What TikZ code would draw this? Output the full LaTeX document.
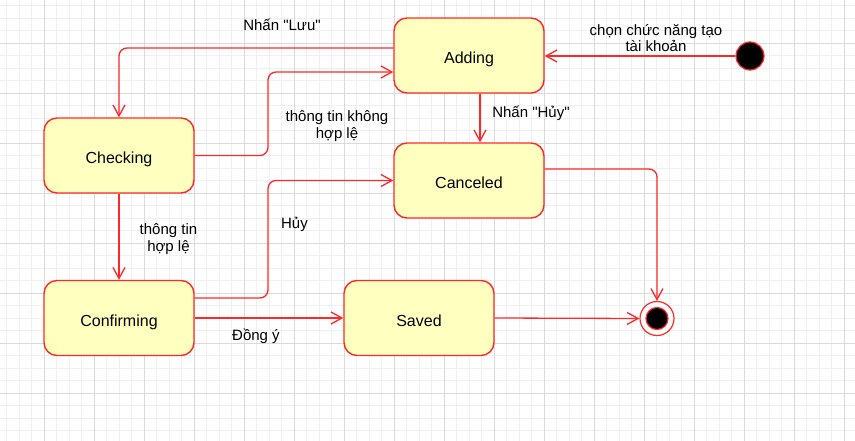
\documentclass[tikz,border=0pt]{standalone}
\usepackage{fontspec}
\setmainfont{Liberation Sans}[Ligatures=TeXOff]
\usetikzlibrary{arrows.meta,calc}
\definecolor{lred}{RGB}{255,40,40}
\definecolor{lyel}{RGB}{255,255,192}
\definecolor{gminor}{RGB}{240,240,240}
\definecolor{gmajor}{RGB}{218,218,218}
\tikzset{
  state/.style={draw=lred,fill=lyel,line width=1.4pt,rounded corners=13pt,
    minimum width=150pt,minimum height=75pt,inner sep=0pt,
    font=\fontsize{16}{18}\selectfont},
  arr/.style={draw=lred,line width=1.3pt,rounded corners=8pt,
    -{Straight Barb[length=11pt,width=12pt,line width=1.3pt]}},
  lbl/.style={font=\fontsize{15}{16.5}\selectfont,align=center,inner sep=0pt,text=black},
  gmin/.style={draw=gminor,line width=0.8pt},
  gmaj/.style={draw=gmajor,line width=0.9pt}
}
\newcommand{\stxt}[1]{\raisebox{-8pt}[0pt][0pt]{#1}}
\begin{document}
\begin{tikzpicture}[x=1pt,y=-1pt]
\useasboundingbox (0,0) rectangle (855,441);
\fill[white] (0,0) rectangle (855,441);
\foreach \k in {0,...,68} {\draw[gmin] ({6.5+12.5*\k},0) -- ({6.5+12.5*\k},441);}
\foreach \k in {0,...,35} {\draw[gmin] (0,{5.5+12.5*\k}) -- (855,{5.5+12.5*\k});}
\foreach \k in {-1,...,16} {\draw[gmaj] ({44+50*\k},0) -- ({44+50*\k},441);}
\foreach \k in {-1,...,8} {\draw[gmaj] (0,{43+50*\k}) -- (855,{43+50*\k});}
% states
\node[state] (adding) at (469,55.5) {\stxt{Adding}};
\node[state] (checking) at (119,155.5) {\stxt{Checking}};
\node[state] (canceled) at (469,180.5) {\stxt{Canceled}};
\node[state] (confirming) at (119,318) {\stxt{Confirming}};
\node[state] (saved) at (419,318) {\stxt{Saved}};
\node[circle,draw=lred,fill=black,line width=1.2pt,minimum size=28pt,inner sep=0pt] (init) at (750,56) {};
\node[circle,draw=lred,fill=white,line width=1.2pt,minimum size=34pt,inner sep=0pt] (final) at (657,318.5) {};
\fill[black,draw=lred,line width=1.2pt] (final.center) circle (11);
% junctions
\coordinate (j1) at (268,72);
\coordinate (j2) at (268,180.5);
% edges
\draw[arr] (init.west) -- (init.west -| adding.east);
\draw[arr] ([yshift=7.5pt]adding.west) -| (checking.north);
\draw[arr] (checking.east) -| (j1) -- (j1 -| adding.west);
\draw[arr] ([xshift=11pt]adding.south) -- ([xshift=11pt]canceled.north);
\draw[arr] (checking.south) -- (confirming.north);
\draw[arr] ([yshift=20pt]confirming.east) -| (j2) -- (canceled.west);
\draw[arr] (confirming.east) -- (saved.west);
\draw[arr] ([yshift=11.5pt]canceled.east) -| (final.north);
\draw[arr] (saved.east) -- (final.west);
% labels
\node[lbl] (l1) at (282,25) {Nhấn "Lưu"};
\node[lbl] (l2) at (656,38) {chọn chức năng tạo\\tài khoản};
\node[lbl] (l3) at (337,126) {thông tin không\\hợp lệ};
\node[lbl] (l4) at (531,113) {Nhấn "Hủy"};
\node[lbl] (l5) at (168.5,239) {thông tin\\hợp lệ};
\node[lbl] (l6) at (294.5,224) {Hủy};
\node[lbl] (l7) at (256,336) {Đồng ý};
\end{tikzpicture}
\end{document}
